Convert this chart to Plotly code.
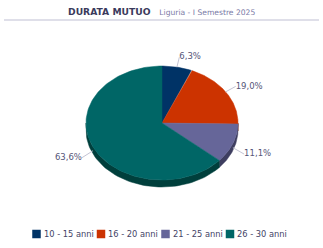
import numpy as np
import plotly.graph_objects as go

# ---- data ----
categories = ["10 - 15 anni", "16 - 20 anni", "21 - 25 anni", "26 - 30 anni"]
values = [6.3, 19.0, 11.1, 63.6]
title_main = "DURATA MUTUO"
title_sub = "Liguria - I Semestre 2025"

# ---- style ----
colors = ["#003366", "#cc3300", "#666699", "#006666"]
side_colors = ["#001f40", "#7a1f00", "#3e3e60", "#003f3c"]
label_color = "#555577"
FONT = "DejaVu Sans"
CX, CY, RX, RY, DEPTH = 162, 123, 76, 57, 7

W, H = 323, 248


def pt(theta, rx=RX, ry=RY, dy=0.0):
    t = np.radians(theta)
    return CX + rx * np.sin(t), CY - ry * np.cos(t) + dy


fig = go.Figure()

total = sum(values)
bounds = []
acc = 0.0
for v in values:
    a0 = acc / total * 360
    acc += v
    a1 = acc / total * 360
    bounds.append((a0, a1))

# side (3D depth) first
for (a0, a1), sc in zip(bounds, side_colors):
    s0, s1 = max(a0, 90), min(a1, 270)
    if s1 <= s0:
        continue
    th = np.linspace(s0, s1, 60)
    xt, yt = pt(th)
    xb, yb = pt(th[::-1], dy=DEPTH)
    xs = np.concatenate([xt, xb, xt[:1]])
    ys = np.concatenate([yt, yb, yt[:1]])
    fig.add_trace(go.Scatter(x=xs, y=ys, mode="lines", fill="toself",
                             fillcolor=sc, line=dict(width=0.5, color=sc),
                             hoverinfo="skip", showlegend=False))

# top slices
for (a0, a1), c, cat, v in zip(bounds, colors, categories, values):
    th = np.linspace(a0, a1, 120)
    xa, ya = pt(th)
    xs = np.concatenate([[CX], xa, [CX]])
    ys = np.concatenate([[CY], ya, [CY]])
    fig.add_trace(go.Scatter(x=xs, y=ys, mode="lines", fill="toself",
                             fillcolor=c, line=dict(width=0.5, color=c),
                             name=cat, hoverinfo="text",
                             text=f"{cat}: {v:.1f}%", showlegend=False))

# data labels with connectors
for (a0, a1), v in zip(bounds, values):
    mid = (a0 + a1) / 2
    lower = np.cos(np.radians(mid)) < 0
    dy = DEPTH if lower else 0
    ex, ey = pt(mid, dy=dy * 0.6)
    lx, ly = pt(mid, RX + 12, RY + 10, dy=dy)
    fig.add_trace(go.Scatter(x=[ex, lx], y=[ey, ly], mode="lines",
                             line=dict(color="#c4c4d4", width=1),
                             hoverinfo="skip", showlegend=False))
    right = np.sin(np.radians(mid)) >= 0
    txt = f"{v:.1f}".replace(".", ",") + "%"
    fig.add_trace(go.Scatter(x=[lx], y=[ly], mode="text", text=[txt],
                             textposition="middle right" if right else "middle left",
                             textfont=dict(family=FONT, size=8.5, color=label_color),
                             hoverinfo="skip", showlegend=False))

# manual legend
LEG_X0, LEG_STEP, LEG_Y = 36.5, 64.5, 234
lx_sq = [LEG_X0 + i * LEG_STEP for i in range(len(categories))]
fig.add_trace(go.Scatter(x=lx_sq, y=[LEG_Y] * len(categories), mode="markers",
                         marker=dict(symbol="square", size=8.5, color=colors),
                         hoverinfo="skip", showlegend=False))
for i, cat in enumerate(categories):
    fig.add_annotation(x=lx_sq[i] + 5, y=LEG_Y, text=cat, showarrow=False,
                       xanchor="left", yanchor="middle", xref="x", yref="y",
                       font=dict(family=FONT, size=8.3, color="#444466"))

# title
fig.add_annotation(
    x=161.5, y=11, xref="x", yref="y", showarrow=False, xanchor="center", yanchor="middle",
    text=(f"<b>{title_main}</b>&nbsp;&nbsp;&nbsp;"
          f"<span style='font-size:7.6px;color:#7a7aa6'>{title_sub}</span>"),
    font=dict(family=FONT, size=9.2, color="#3a3a5c"))
fig.add_shape(type="line", x0=4, x1=319, y0=20, y1=20, xref="x", yref="y",
              line=dict(color="#d4d4e2", width=1.5))

fig.update_layout(
    width=W, height=H, margin=dict(l=0, r=0, t=0, b=0),
    paper_bgcolor="white", plot_bgcolor="white",
    xaxis=dict(range=[0, W], visible=False, fixedrange=True),
    yaxis=dict(range=[H, 0], visible=False, fixedrange=True),
    showlegend=False,
)

fig.write_html("out.html")
